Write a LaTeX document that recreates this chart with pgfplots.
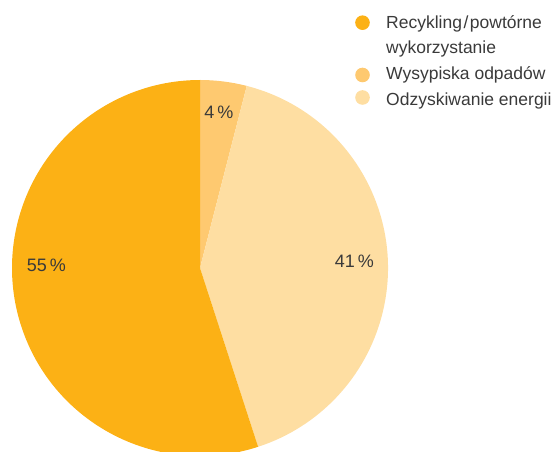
\documentclass[border=0pt]{standalone}
\usepackage{fontspec}
\setmainfont{Liberation Sans}
\usepackage{pgfplots}
\pgfplotsset{compat=1.18}
\definecolor{darkc}{RGB}{252,177,21}
\definecolor{midc}{RGB}{254,201,112}
\definecolor{lightc}{RGB}{254,222,162}
\definecolor{txt}{RGB}{58,58,58}
\begin{document}
\begin{tikzpicture}
\useasboundingbox (0,0) rectangle (554pt,452pt);
% shares in percent: Wysypiska 4, Odzyskiwanie 41, Recykling 55
\pgfmathsetmacro\aA{90}
\pgfmathsetmacro\aB{\aA-4*3.6}
\pgfmathsetmacro\aC{\aB-41*3.6}
\pgfmathsetmacro\aD{\aC-55*3.6}
\begin{axis}[at={(0pt,0pt)}, anchor=south west, width=554pt, height=452pt,
  scale only axis, xmin=0, xmax=554, ymin=0, ymax=452, hide axis, clip=true]
\fill[midc] (axis cs:200,184) -- +(\aA:188pt) arc[start angle=\aA, end angle=\aB, radius=188pt] -- cycle;
\fill[lightc] (axis cs:200,184) -- +(\aB:188pt) arc[start angle=\aB, end angle=\aC, radius=188pt] -- cycle;
\fill[darkc] (axis cs:200,184) -- +(\aC:188pt) arc[start angle=\aC, end angle=\aD, radius=188pt] -- cycle;
\node[text=txt, font=\fontsize{18}{20}\selectfont] at (axis cs:219,339.5) {4\,\%};
\node[text=txt, font=\fontsize{18}{20}\selectfont] at (axis cs:354.5,191) {41\,\%};
\node[text=txt, font=\fontsize{18}{20}\selectfont] at (axis cs:46.5,186.5) {55\,\%};
% legend
\fill[darkc] (axis cs:362.5,429.3) circle[radius=7.3pt];
\fill[midc] (axis cs:362.5,377) circle[radius=7.3pt];
\fill[lightc] (axis cs:362.5,354.5) circle[radius=7.3pt];
\node[anchor=base west, inner sep=0pt, text=txt, font=\fontsize{17.5}{20}\selectfont] at (axis cs:386,423) {Recykling\kern1.5pt/\kern1.5pt powtórne};
\node[anchor=base west, inner sep=0pt, text=txt, font=\fontsize{17.5}{20}\selectfont] at (axis cs:386,398) {wykorzystanie};
\node[anchor=base west, inner sep=0pt, text=txt, font=\fontsize{17.5}{20}\selectfont] at (axis cs:386,372) {Wysypiska odpadów};
\node[anchor=base west, inner sep=0pt, text=txt, font=\fontsize{17.5}{20}\selectfont] at (axis cs:386,346) {Odzyskiwanie energii};
\end{axis}
\end{tikzpicture}
\end{document}
